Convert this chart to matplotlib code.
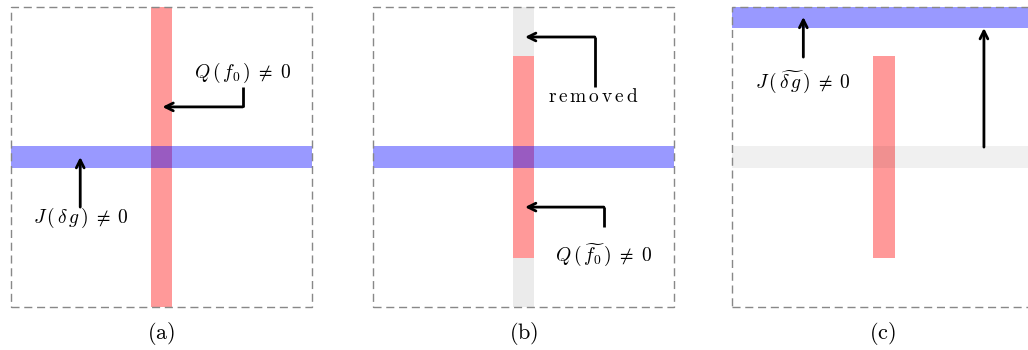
import matplotlib
matplotlib.use("Agg")
import matplotlib.pyplot as plt

plt.rcParams["mathtext.fontset"] = "cm"
plt.rcParams["font.family"] = "serif"
plt.rcParams["font.serif"] = ["DejaVu Serif"]

# panel captions
captions = ["(a)", "(b)", "(c)"]

# vertical bars per panel: (x centre, bottom, top, colour)
vbars = [
    [(5.0, 0.0, 10.0, "red")],
    [(5.0, 0.0, 10.0, "grey"), (5.0, 1.63, 8.37, "red")],
    [(5.05, 1.63, 8.37, "red")],
]
# horizontal bars per panel: (y centre, left, right, colour)
hbars = [
    [(5.0, 0.0, 10.0, "blue")],
    [(5.0, 0.0, 10.0, "blue")],
    [(5.0, 0.0, 10.0, "lightgrey"), (9.68, 0.0, 10.0, "blue")],
]
# arrows per panel: path points (last point is the tip)
arrows = [
    [[(7.7, 7.33), (7.7, 6.67), (5.03, 6.67)], [(2.3, 3.33), (2.3, 5.0)]],
    [[(7.37, 7.33), (7.37, 9.0), (5.05, 9.0)], [(7.67, 2.67), (7.67, 3.33), (5.05, 3.33)]],
    [[(2.37, 8.33), (2.37, 9.67)], [(8.37, 5.33), (8.37, 9.3)]],
]
# annotation texts per panel: (x, y, text)
labels = [
    [(7.7, 7.8, r"$Q\,(\,f_0\,)\;\neq\;0$"), (2.33, 2.97, r"$J\,(\,\delta\, g\,)\;\neq\;0$")],
    [(7.32, 7.0, r"$\mathrm{r\,e\,m\,o\,v\,e\,d}$"), (7.65, 1.75, r"$Q\,(\,\widetilde{f_0}\,)\;\neq\;0$")],
    [(2.37, 7.5, r"$J\,(\,\widetilde{\delta\, g}\,)\;\neq\;0$")],
]

colors = {"red": "#ff9999", "blue": (0.0, 0.0, 1.0, 0.4),
          "grey": "#ebebeb", "lightgrey": (0.0, 0.0, 0.0, 0.06)}
bar_w = 0.73
lefts = [11, 373, 732]

fig = plt.figure(figsize=(10.28, 3.5), dpi=100)
for i in range(3):
    ax = fig.add_axes([lefts[i] / 1028, 43 / 350, 301 / 1028, 300 / 350])
    ax.set_xlim(0, 10)
    ax.set_ylim(0, 10)
    ax.axis("off")

    for x, y0, y1, c in vbars[i]:
        ax.bar(x, y1 - y0, bottom=y0, width=bar_w, color=colors[c], linewidth=0, zorder=2)
    for y, x0, x1, c in hbars[i]:
        ax.barh(y, x1 - x0, left=x0, height=bar_w, color=colors[c], linewidth=0, zorder=3)

    # dashed frame of the panel
    box = plt.Rectangle((0, 0), 10, 10, fill=False, edgecolor="#888888",
                        linewidth=1.0, linestyle=(0, (5.8, 3.4)), zorder=5, clip_on=False)
    ax.add_patch(box)

    for pts in arrows[i]:
        if len(pts) > 2:
            xs = [p[0] for p in pts[:-1]]
            ys = [p[1] for p in pts[:-1]]
            ax.plot(xs, ys, color="black", lw=2, solid_capstyle="butt", zorder=6)
        ax.annotate("", xy=pts[-1], xytext=pts[-2],
                    arrowprops=dict(arrowstyle="->", lw=2, color="black",
                                    shrinkA=0, shrinkB=0, mutation_scale=14),
                    zorder=6)

    for x, y, t in labels[i]:
        ax.text(x, y, t, ha="center", va="center", fontsize=14, zorder=7)

    ax.text(5.0, -0.87, r"$\mathrm{" + captions[i] + "}$", ha="center", va="center",
            fontsize=16, clip_on=False)

fig.savefig("out.png", dpi=100)
